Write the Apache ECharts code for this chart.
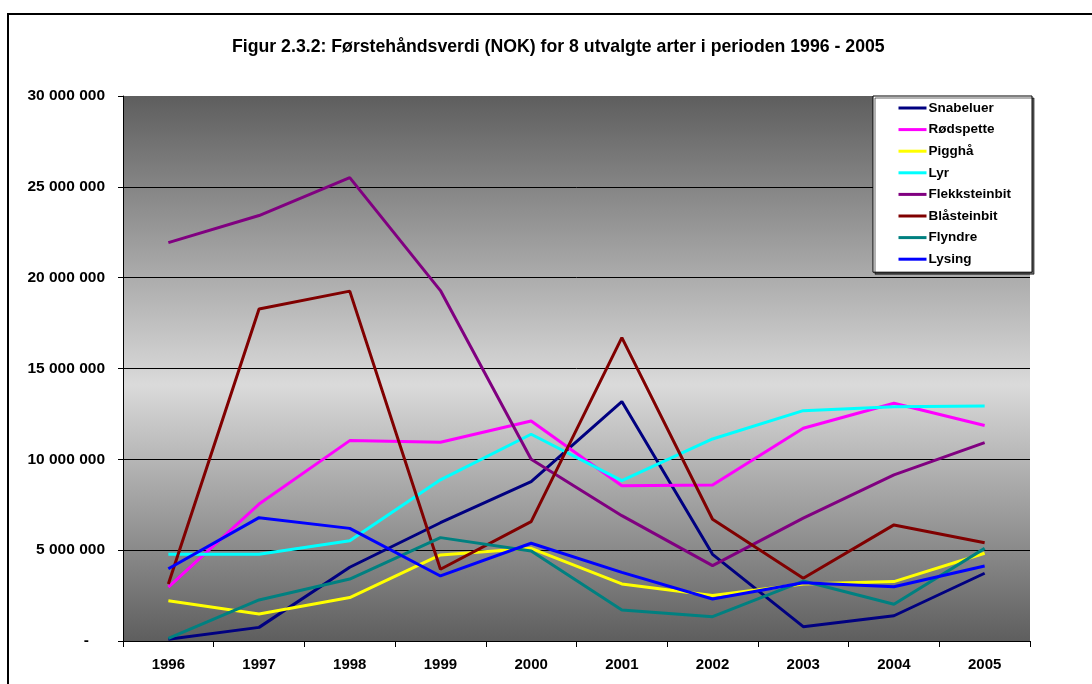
<!DOCTYPE html>
<html>
<head>
<meta charset="utf-8">
<script src="https://cdn.jsdelivr.net/npm/echarts@6/dist/echarts.min.js"></script>
<style>html,body{margin:0;padding:0;background:#fff;}#c{width:1092px;height:684px;}</style>
</head>
<body>
<div id="c"></div>
<script>
var years = ['1996','1997','1998','1999','2000','2001','2002','2003','2004','2005'];
var snabeluer     = [100000, 750000, 4060000, 6510000, 8770000, 13180000, 4770000, 790000, 1390000, 3730000];
var rodspette     = [2960000, 7540000, 11030000, 10940000, 12110000, 8550000, 8590000, 11710000, 13090000, 11860000];
var pigghaa       = [2220000, 1490000, 2390000, 4740000, 5100000, 3140000, 2500000, 3140000, 3270000, 4830000];
var lyr           = [4770000, 4770000, 5520000, 8870000, 11380000, 8830000, 11120000, 12680000, 12900000, 12940000];
var flekksteinbit = [21930000, 23420000, 25510000, 19290000, 10000000, 6900000, 4150000, 6760000, 9140000, 10920000];
var blaasteinbit  = [3140000, 18270000, 19260000, 3950000, 6570000, 16700000, 6700000, 3450000, 6390000, 5410000];
var flyndre       = [150000, 2260000, 3410000, 5690000, 4960000, 1710000, 1340000, 3300000, 2020000, 5100000];
var lysing        = [3980000, 6790000, 6200000, 3580000, 5380000, 3780000, 2310000, 3210000, 2990000, 4130000];
var seriesNames = ['Snabeluer','Rødspette','Pigghå','Lyr','Flekksteinbit','Blåsteinbit','Flyndre','Lysing'];
var seriesData = [snabeluer, rodspette, pigghaa, lyr, flekksteinbit, blaasteinbit, flyndre, lysing];
var seriesColors = ['#000080','#FF00FF','#FFFF00','#00FFFF','#800080','#800000','#008080','#0000FF'];
var titleText = 'Figur 2.3.2: Førstehåndsverdi (NOK) for 8 utvalgte arter i perioden 1996 - 2005';

function fmt(v){
  if (v === 0) return '{z|-}';
  return String(v).replace(/\B(?=(\d{3})+(?!\d))/g, ' ');
}

var chart = echarts.init(document.getElementById('c'), null, {renderer:'canvas'});
var font = 'Liberation Sans, Arial, sans-serif';
chart.setOption({
  animation: false,
  backgroundColor: '#ffffff',
  textStyle: {fontFamily: font},
  graphic: [{
    type: 'rect', shape: {x: 8, y: 14, width: 1200, height: 800},
    style: {fill: 'none', stroke: '#000', lineWidth: 2}, z: -1
  }],
  title: {
    text: titleText, left: 232, top: 38, padding: 0,
    textStyle: {fontFamily: font, fontSize: 17.7, fontWeight: 'bold', color: '#000'}
  },
  legend: {
    orient: 'vertical', left: 873, top: 96,
    backgroundColor: '#fff', borderColor: '#000', borderWidth: 1,
    shadowColor: 'rgba(0,0,0,0.6)', shadowOffsetX: 2, shadowOffsetY: 2, shadowBlur: 0,
    padding: [5, 21, 6, 24], itemWidth: 28, itemHeight: 14, itemGap: 7.6,
    itemStyle: {opacity: 0},
    lineStyle: {width: 3},
    textStyle: {fontFamily: font, fontSize: 13.5, fontWeight: 'bold', color: '#000', padding: [0,0,0,-3]},
    data: seriesNames
  },
  grid: {
    left: 123, right: 62, top: 96, bottom: 43, show: true, borderWidth: 0,
    backgroundColor: {type: 'linear', x: 0, y: 0, x2: 0, y2: 1,
      colorStops: [{offset: 0, color: '#5e5e5e'}, {offset: 0.53, color: '#dadada'}, {offset: 1, color: '#5e5e5e'}]}
  },
  xAxis: {
    type: 'category', data: years, boundaryGap: true,
    axisLine: {lineStyle: {color: '#000', width: 1}},
    axisTick: {show: true, length: 6, lineStyle: {color: '#000'}},
    axisLabel: {margin: 16, fontFamily: font, fontSize: 15, fontWeight: 'bold', color: '#000'},
    splitLine: {show: false}
  },
  yAxis: {
    type: 'value', min: 0, max: 30000000, interval: 5000000,
    axisLine: {show: true, lineStyle: {color: '#000', width: 1}},
    axisTick: {show: true, length: 5, lineStyle: {color: '#000'}},
    axisLabel: {margin: 18, fontFamily: font, fontSize: 15.5, fontWeight: 'bold', color: '#000', formatter: fmt,
      rich: {z: {fontFamily: font, fontSize: 15.5, fontWeight: 'bold', color: '#000', padding: [0, 16, 0, 0]}}},
    splitLine: {show: true, showMaxLine: false, lineStyle: {color: '#000', width: 1}}
  },
  series: seriesNames.map(function(n, i){
    return {
      name: n, type: 'line', data: seriesData[i], symbol: 'none', showSymbol: false,
      lineStyle: {color: seriesColors[i], width: 3}, itemStyle: {color: seriesColors[i]},
      emphasis: {disabled: true}
    };
  })
});
</script>
</body>
</html>
